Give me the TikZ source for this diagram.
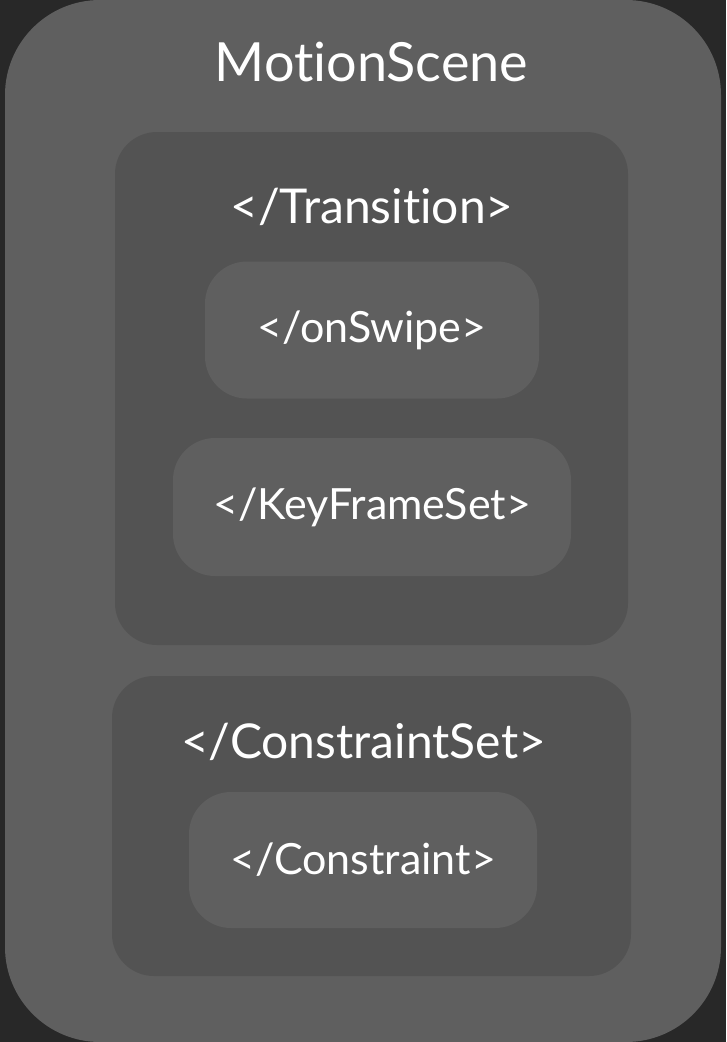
\documentclass[tikz,border=0pt]{standalone}
\usepackage{fontspec}
\setmainfont{Lato}[Ligatures=NoCommon]
\usetikzlibrary{positioning}

\definecolor{bgdark}{RGB}{40,40,40}
\definecolor{panelgrey}{RGB}{95,95,95}
\definecolor{groupgrey}{RGB}{83,83,83}

\begin{document}
\begin{tikzpicture}[
	x=1pt, y=-1pt,
	panel/.style = {draw=none, rounded corners=#1, inner sep=0pt},
	outerbox/.style = {panel=95pt, fill=panelgrey},
	groupbox/.style = {panel=42pt, fill=groupgrey},
	tagbox/.style = {panel=42pt, fill=panelgrey, text=white,
		font=\fontsize{43}{48}\selectfont},
	title/.style = {text=white, inner sep=0pt},
	]
	% background and frame
	\fill[bgdark] (0,0) rectangle (726,1042);
	\useasboundingbox (0,0) rectangle (726,1042);
	\node[outerbox, minimum width=716pt, minimum height=1042pt] (scene) at (363,521) {};
	\node[title, font=\fontsize{54}{60}\selectfont] (scenetitle) at (371.5,62) {MotionScene};

	% transition group
	\node[groupbox, minimum width=513pt, minimum height=513pt] (trans) at (371.5,388.5) {};
	\node[title, font=\fontsize{48}{52}\selectfont] (transtitle) at (372,207) {</Transition>};
	\node[tagbox, minimum width=334pt, minimum height=137pt] (swipe) at (372,330) {</onSwipe>};
	\node[tagbox, minimum width=398pt, minimum height=138pt] (keyframes) at (372,507) {</KeyFrameSet>};

	% constraint group
	\node[groupbox, minimum width=519pt, minimum height=300pt] (cset) at (371.5,826) {};
	\node[title, font=\fontsize{48}{52}\selectfont] (csettitle) at (363.5,742) {</ConstraintSet>};
	\node[tagbox, minimum width=348pt, minimum height=136pt] (constraint) at (363,860) {</Constraint>};
\end{tikzpicture}
\end{document}
